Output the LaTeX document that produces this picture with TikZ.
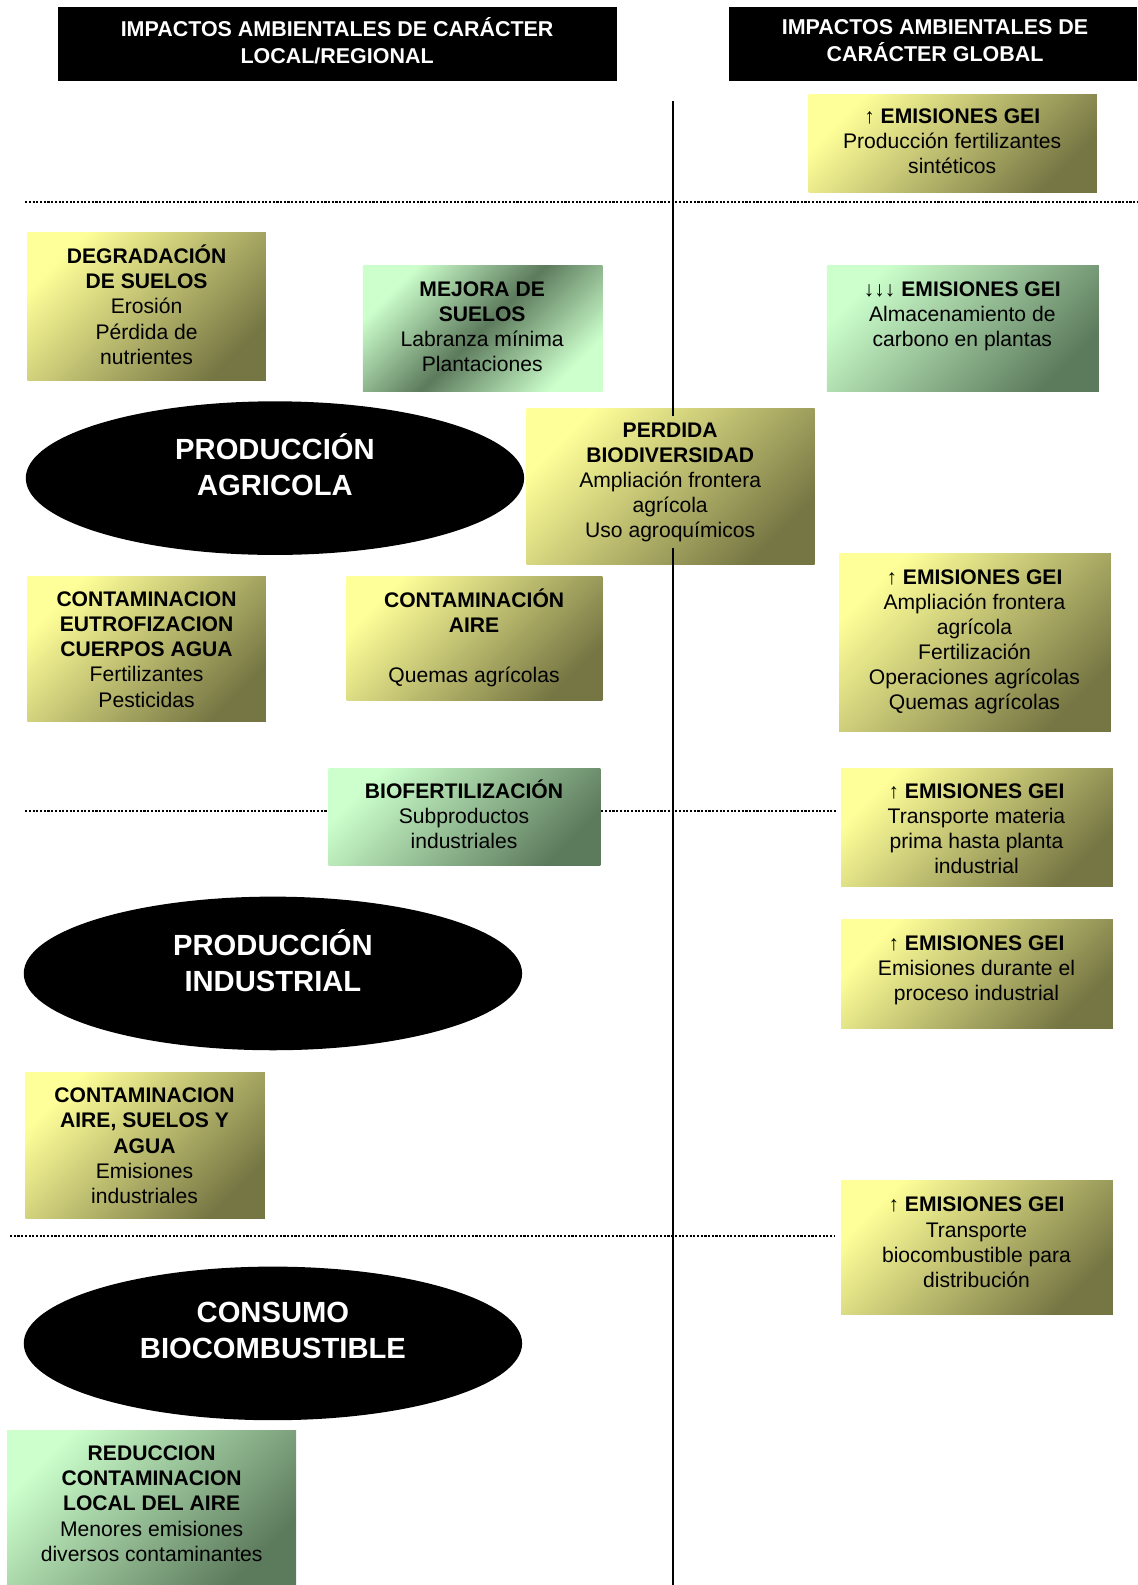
\documentclass[tikz,border=0pt]{standalone}
\usepackage{fontspec}
\setmainfont{Liberation Sans}
\usepackage{xcolor}
\usetikzlibrary{shapes.geometric}

\definecolor{amarillo}{RGB}{255,255,153}
\definecolor{oliva}{RGB}{118,118,68}
\definecolor{verdeclaro}{RGB}{204,255,204}
\definecolor{verdeosc}{RGB}{92,122,92}

\begin{document}
\begin{tikzpicture}[x=0.0202cm,y=-0.0202cm,
  caja/.style={top color=amarillo,bottom color=oliva,shading angle=45},
  cajav/.style={top color=verdeclaro,bottom color=verdeosc,shading angle=45},
  txt/.style={align=center,anchor=north,inner sep=0pt,font=\fontsize{12}{14.3}\selectfont},
  titulo/.style={align=center,text=white,inner sep=0pt,font=\bfseries\fontsize{12.2}{15.5}\selectfont},
  elipse/.style={ellipse,fill=black,inner sep=0pt,minimum width=9.96cm,minimum height=3.07cm},
  etapa/.style={align=center,text=white,inner sep=0pt,font=\bfseries\fontsize{16.6}{20.5}\selectfont},
  puntos/.style={line width=1.2pt,dash pattern=on 1.2pt off 0.9pt}]
\useasboundingbox (0,0) rectangle (1125,1568);

% encabezados
\fill (57,7) rectangle (610,80);
\node[titulo] (tlocal) at (333.5,40.5) {IMPACTOS AMBIENTALES DE CARÁCTER\\LOCAL/REGIONAL};
\fill (721,7) rectangle (1125,80);
\node[titulo] (tglobal) at (925,40.5) {IMPACTOS AMBIENTALES DE\\CARÁCTER GLOBAL};

% separadores
\draw[puntos] (25,200) -- (1125,200);
\draw[puntos] (25,802) -- (828,802);
\draw[puntos] (10,1223) -- (825,1223);

% produccion agricola
\shade[caja] (800,93) rectangle (1085,190);
\node[txt] (emifert) at (942,107) {↑ \textbf{EMISIONES GEI}\\Producción fertilizantes\\sintéticos};
\shade[caja] (27,230) rectangle (263,376);
\node[txt] (degrad) at (145,242) {\textbf{DEGRADACIÓN}\\\textbf{DE SUELOS}\\Erosión\\Pérdida de\\nutrientes};
\shade[top color=verdeclaro,bottom color=verdeclaro,middle color=verdeosc,shading angle=45] (359,263) rectangle (596,387);
\node[txt] (mejora) at (477,278) {\textbf{MEJORA DE}\\\textbf{SUELOS}\\Labranza mínima\\Plantaciones};
\shade[cajav] (818,263) rectangle (1087,387);
\node[txt] (emialm) at (952,278) {↓↓↓ \textbf{EMISIONES GEI}\\Almacenamiento de\\carbono en plantas};
\node[elipse] (agricola) at (272,473) {};
\node[etapa] (tagricola) at ([yshift=0.26cm]agricola.center) {PRODUCCIÓN\\AGRICOLA};
\shade[caja] (521,404) rectangle (806,558);
\node[txt] (perdida) at (663,418) {\textbf{PERDIDA}\\\textbf{BIODIVERSIDAD}\\Ampliación frontera\\agrícola\\Uso agroquímicos};
\shade[caja] (27,570) rectangle (263,714);
\node[txt] (eutrof) at (145,585) {\textbf{CONTAMINACION}\\\textbf{EUTROFIZACION}\\\textbf{CUERPOS AGUA}\\Fertilizantes\\Pesticidas};
\shade[caja] (343,570) rectangle (596,693);
\node[txt] (contaire) at (469,582) {\textbf{CONTAMINACIÓN}\\\textbf{AIRE}\\[14.3pt]Quemas agrícolas};
\shade[caja] (830,548) rectangle (1099,724);
\node[txt] (emiagr) at (964,563) {↑ \textbf{EMISIONES GEI}\\Ampliación frontera\\agrícola\\Fertilización\\Operaciones agrícolas\\Quemas agrícolas};

% produccion industrial
\shade[cajav] (325,760) rectangle (594,856);
\node[txt] (biofert) at (459,771) {\textbf{BIOFERTILIZACIÓN}\\Subproductos\\industriales};
\shade[caja] (832,760) rectangle (1101,877);
\node[txt] (emitransp) at (966,775) {↑ \textbf{EMISIONES GEI}\\Transporte materia\\prima hasta planta\\industrial};
\node[elipse] (industrial) at (270,963) {};
\node[etapa] (tindustrial) at ([yshift=0.26cm]industrial.center) {PRODUCCIÓN\\INDUSTRIAL};
\shade[caja] (832,910) rectangle (1101,1017);
\node[txt] (emiproc) at (966,925) {↑ \textbf{EMISIONES GEI}\\Emisiones durante el\\proceso industrial};
\shade[caja] (25,1061) rectangle (262,1205);
\node[txt] (contasa) at (143,1076) {\textbf{CONTAMINACION}\\\textbf{AIRE, SUELOS Y}\\\textbf{AGUA}\\Emisiones\\industriales};

% consumo
\shade[caja] (832,1168) rectangle (1101,1300);
\node[txt] (emidist) at (966,1184) {↑ \textbf{EMISIONES GEI}\\Transporte\\biocombustible para\\distribución};
\node[elipse] (consumo) at (270,1329) {};
\node[etapa] (tconsumo) at ([yshift=0.26cm]consumo.center) {CONSUMO\\BIOCOMBUSTIBLE};
\shade[cajav] (7,1415) rectangle (293,1568);
\node[txt] (reduc) at (150,1430) {\textbf{REDUCCION}\\\textbf{CONTAMINACION}\\\textbf{LOCAL DEL AIRE}\\Menores emisiones\\diversos contaminantes};

% division local / global
\draw[line width=0.9pt] (666,100) -- (666,412);
\draw[line width=0.9pt] (666,542) -- (666,1568);
\end{tikzpicture}
\end{document}
